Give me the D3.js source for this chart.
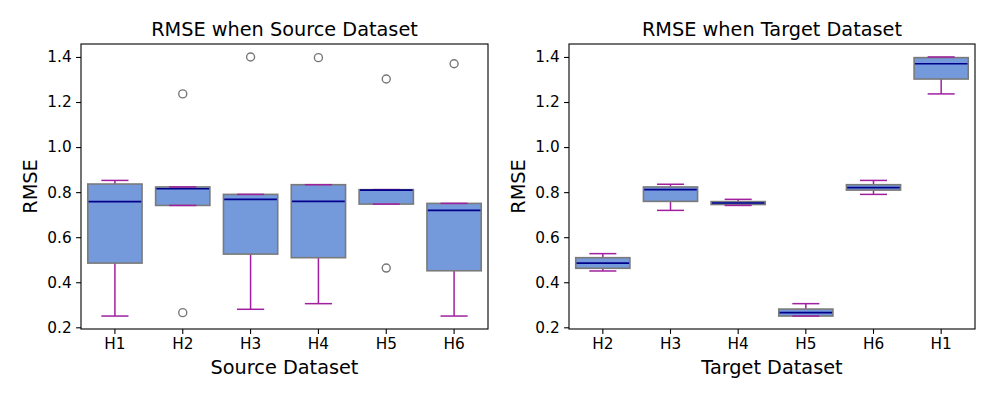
<!DOCTYPE html>
<html>
<head>
<meta charset="utf-8">
<script src="https://cdn.jsdelivr.net/npm/d3@7"></script>
<style>
  html, body { margin: 0; padding: 0; background: #fff; }
  svg { display: block; font-family: "DejaVu Sans", sans-serif; }
</style>
</head>
<body>
<svg id="chart" width="996" height="399"></svg>
<script>
// ---- data ----
const sourceCategories = ["H1", "H2", "H3", "H4", "H5", "H6"];
const sourceValues = [
  [0.485, 0.836, 0.758, 0.250, 0.852],
  [1.236, 0.823, 0.741, 0.265, 0.815],
  [1.400, 0.525, 0.790, 0.280, 0.768],
  [1.397, 0.833, 0.759, 0.305, 0.509],
  [1.302, 0.811, 0.747, 0.463, 0.809],
  [1.370, 0.451, 0.750, 0.250, 0.719]
];
const targetCategories = ["H2", "H3", "H4", "H5", "H6", "H1"];
const targetValues = [
  [0.485, 0.450, 0.462, 0.509, 0.527],
  [0.835, 0.719, 0.759, 0.811, 0.823],
  [0.758, 0.741, 0.745, 0.752, 0.768],
  [0.250, 0.250, 0.265, 0.281, 0.305],
  [0.852, 0.790, 0.809, 0.820, 0.833],
  [1.236, 1.302, 1.370, 1.397, 1.400]
];
const yTicks = [0.2, 0.4, 0.6, 0.8, 1.0, 1.2, 1.4];
const titles = ["RMSE when Source Dataset", "RMSE when Target Dataset"];
const xLabels = ["Source Dataset", "Target Dataset"];
const yLabel = "RMSE";

// ---- styles ----
const FILL = "#759adc", EDGE = "#7a7a7a", MEDIAN = "#00008b", WHISK = "#a020a0", FLIER = "#777777";

const svg = d3.select("#chart");

const allVals = sourceValues.flat().concat(targetValues.flat());
const vmin = d3.min(allVals), vmax = d3.max(allVals);
const pad = (vmax - vmin) * 0.05;

function stats(arr) {
  const s = arr.slice().sort(d3.ascending);
  const q1 = d3.quantile(s, 0.25), med = d3.quantile(s, 0.5), q3 = d3.quantile(s, 0.75);
  const iqr = q3 - q1;
  const lo = q1 - 1.5 * iqr, hi = q3 + 1.5 * iqr;
  const inside = s.filter(v => v >= lo && v <= hi);
  return {
    q1, med, q3,
    wlo: d3.min(inside), whi: d3.max(inside),
    out: s.filter(v => v < lo || v > hi)
  };
}

function panel(left, right, cats, values, title, xlab) {
  const top = 44, bottom = 329;
  const g = svg.append("g");
  const x = d3.scaleBand().domain(cats).range([left, right]).padding(0);
  const y = d3.scaleLinear().domain([vmin - pad, vmax + pad]).range([bottom, top]);
  const bw = x.bandwidth() * 0.8;

  cats.forEach((c, i) => {
    const st = stats(values[i]);
    const cx = x(c) + x.bandwidth() / 2;
    // whiskers
    g.append("line").attr("x1", cx).attr("x2", cx).attr("y1", y(st.q3)).attr("y2", y(st.whi))
      .attr("stroke", WHISK).attr("stroke-width", 1.5);
    g.append("line").attr("x1", cx).attr("x2", cx).attr("y1", y(st.q1)).attr("y2", y(st.wlo))
      .attr("stroke", WHISK).attr("stroke-width", 1.5);
    // box
    g.append("rect").attr("x", cx - bw / 2).attr("width", bw)
      .attr("y", y(st.q3)).attr("height", Math.max(0.5, y(st.q1) - y(st.q3)))
      .attr("fill", FILL).attr("stroke", EDGE).attr("stroke-width", 1.6);
    // caps
    [st.whi, st.wlo].forEach(v => {
      g.append("line").attr("x1", cx - bw / 4).attr("x2", cx + bw / 4).attr("y1", y(v)).attr("y2", y(v))
        .attr("stroke", WHISK).attr("stroke-width", 1.5);
    });
    // median
    g.append("line").attr("x1", cx - bw / 2 + 0.8).attr("x2", cx + bw / 2 - 0.8).attr("y1", y(st.med)).attr("y2", y(st.med))
      .attr("stroke", MEDIAN).attr("stroke-width", 1.6);
    // outliers
    st.out.forEach(v => {
      g.append("circle").attr("cx", cx).attr("cy", y(v)).attr("r", 4)
        .attr("fill", "none").attr("stroke", FLIER).attr("stroke-width", 1.4);
    });
  });

  // axes
  const xa = g.append("g").attr("transform", `translate(0,${bottom})`)
    .call(d3.axisBottom(x).tickSizeOuter(0).tickSize(4.9).tickPadding(4.5));
  const ya = g.append("g").attr("transform", `translate(${left},0)`)
    .call(d3.axisLeft(y).tickValues(yTicks).tickFormat(d3.format(".1f")).tickSizeOuter(0).tickSize(4.9).tickPadding(4.5));
  [xa, ya].forEach(a => {
    a.select(".domain").remove();
    a.selectAll("text").attr("font-size", "15.3px").attr("fill", "#000").attr("font-family", "DejaVu Sans");
    a.selectAll("line").attr("stroke", "#000").attr("stroke-width", 1.1);
  });

  // frame
  g.append("rect").attr("x", left).attr("y", top).attr("width", right - left).attr("height", bottom - top)
    .attr("fill", "none").attr("stroke", "#000").attr("stroke-width", 1.1);

  // title
  g.append("text").attr("x", (left + right) / 2).attr("y", 36).attr("text-anchor", "middle")
    .attr("font-size", "19.3px").text(title);
  // x label
  g.append("text").attr("x", (left + right) / 2).attr("y", 374).attr("text-anchor", "middle")
    .attr("font-size", "19.3px").text(xlab);
  // y label
  g.append("text").attr("transform", `translate(${left - 44},${(top + bottom) / 2}) rotate(-90)`)
    .attr("text-anchor", "middle").attr("font-size", "19.3px").text(yLabel);
}

panel(81, 488, sourceCategories, sourceValues, titles[0], xLabels[0]);
panel(569, 975, targetCategories, targetValues, titles[1], xLabels[1]);
</script>
</body>
</html>
